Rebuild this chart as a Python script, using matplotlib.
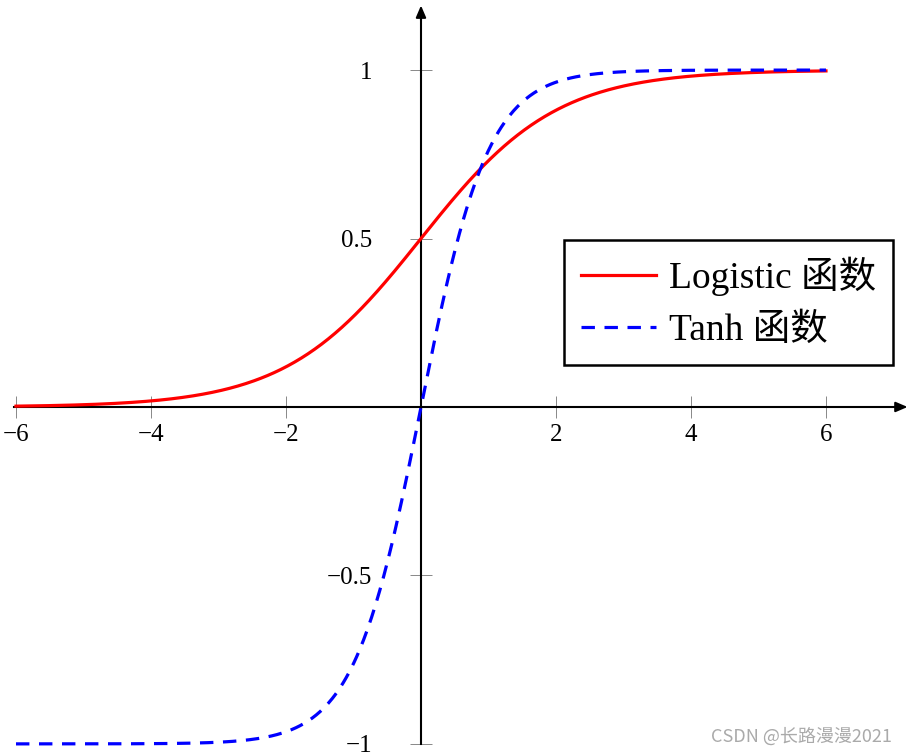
import numpy as np
import matplotlib
matplotlib.use("Agg")
import matplotlib.pyplot as plt

plt.rcParams['font.family'] = ['Liberation Serif', 'Noto Sans CJK SC']
plt.rcParams['axes.unicode_minus'] = True

# curves: the two activation functions named in the legend
x = np.linspace(-6, 6, 600)
logistic = 1 / (1 + np.exp(-x))
tanh = np.tanh(x)

labels = ["Logistic 函数", "Tanh 函数"]
xticks = [-6, -4, -2, 2, 4, 6]
yticks = [-1, -0.5, 0.5, 1]
ytick_labels = ["\u22121", "\u22120.5", "0.5", "1"]

fig = plt.figure(figsize=(9.14, 7.55), dpi=100)
ax = fig.add_axes([0, 0, 1, 1])
ax.set_xlim(-6.237, 7.304)
ax.set_ylim(-1.033, 1.208)

ax.plot(x, logistic, color='#ff0000', lw=2.3, label=labels[0], zorder=3)
ax.plot(x, tanh, color='#0000ff', lw=2.3, dashes=(4.2, 3.0), label=labels[1], zorder=3)

# axes through the origin
for s in ['top', 'right']:
    ax.spines[s].set_visible(False)
ax.spines['left'].set_position(('data', 0))
ax.spines['bottom'].set_position(('data', 0))
ax.spines['left'].set_bounds(-1, 1.15)
ax.spines['bottom'].set_bounds(-6.03, 7.1)
ax.spines['left'].set_linewidth(1.5)
ax.spines['bottom'].set_linewidth(1.5)
ax.annotate('', xy=(7.25, 0), xytext=(7.0, 0),
            arrowprops=dict(arrowstyle='-|>,head_length=0.7,head_width=0.3', color='black', lw=1.5))
ax.annotate('', xy=(0, 1.2), xytext=(0, 1.14),
            arrowprops=dict(arrowstyle='-|>,head_length=0.7,head_width=0.3', color='black', lw=1.5))

ax.set_xticks(xticks)
ax.set_xticklabels([str(t).replace('-', '\u2212') for t in xticks])
ax.set_yticks(yticks)
ax.set_yticklabels(ytick_labels)
ax.tick_params(axis='both', direction='inout', length=16, width=0.7, color='#888888',
               labelsize=18)
ax.tick_params(axis='x', pad=4)
ax.tick_params(axis='y', pad=27)

leg = ax.legend(loc='upper left', bbox_to_anchor=(564 / 914, 1 - 240 / 755),
                bbox_transform=fig.transFigure, fontsize=27, frameon=True, fancybox=False,
                edgecolor='black', framealpha=1, handlelength=2.0, handletextpad=0.35,
                labelspacing=0.47, borderpad=0.45, borderaxespad=0)
leg.get_frame().set_linewidth(1.8)

fig.text(892 / 914, 1 - 737 / 755, "CSDN @长路漫漫2021", ha='right', va='center',
         fontsize=13, color='#aaaaaa', family=['Noto Sans CJK SC', 'DejaVu Sans'])

fig.savefig("out.png", dpi=100)
